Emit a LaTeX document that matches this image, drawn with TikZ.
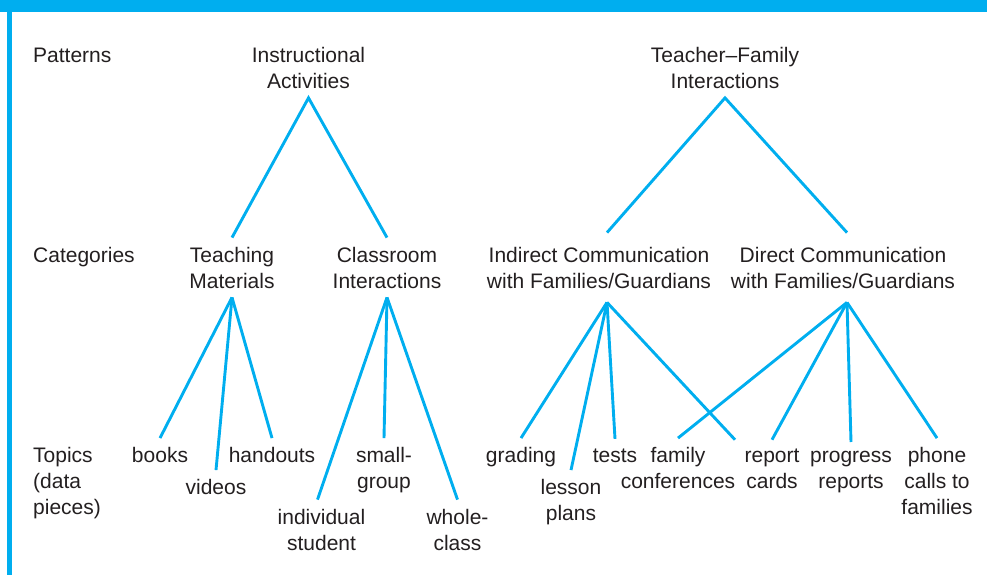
\documentclass[tikz,border=0pt]{standalone}
\usepackage{fontspec}
\setmainfont{Liberation Sans}
\usepackage{tikz}
\definecolor{bluebar}{HTML}{00AEEF}
\definecolor{ink}{HTML}{231F20}
\tikzstyle{lbl}=[text=ink, font=\fontsize{21}{26}\selectfont, align=center, anchor=base, execute at begin node={\vphantom{I}}, inner sep=9pt]
\tikzstyle{side}=[lbl, align=left, anchor=base west, inner sep=0pt]
\tikzstyle{far}=[lbl, inner ysep=14pt]
\tikzstyle{branch}=[draw=bluebar, line width=2.9pt]

\begin{document}
\begin{tikzpicture}[x=1pt,y=-1pt]
    \useasboundingbox (0,0) rectangle (987,575);

    %frame
    \fill [bluebar] (0,0) rectangle (987,12);
    \fill [bluebar] (7,12) rectangle (12,575);

    %level names (placed by last baseline)
    \node [side] (pat) at (33,62.5) {Patterns};
    \node [side] (cat) at (33,262.5) {Categories};
    \node [side] (top) at (33,514.5) {Topics\\(data\\pieces)};

    %patterns
    \node [lbl] (ia) at (308.5,88.5) {Instructional\\Activities};
    \node [lbl] (tf) at (725,88.5) {Teacher–Family\\Interactions};

    %categories
    \node [lbl] (tm) at (232,288) {Teaching\\Materials};
    \node [lbl] (ci) at (387,288) {Classroom\\Interactions};
    \node [far] (ind) at (599,288) {Indirect Communication\\with Families/Guardians};
    \node [far] (dir) at (843,288) {Direct Communication\\with Families/Guardians};

    %topics
    \node [lbl] (bk) at (160,462.5) {books};
    \node [lbl] (vd) at (216,494.5) {videos};
    \node [lbl] (ho) at (272,462.5) {handouts};
    \node [lbl] (is) at (321.5,550) {individual\\student};
    \node [lbl] (sg) at (384,488.5) {small-\\group};
    \node [lbl] (wc) at (457.5,550) {whole-\\class};
    \node [lbl] (gr) at (521,462.5) {grading};
    \node [lbl] (lp) at (571,520.5) {lesson\\plans};
    \node [lbl] (ts) at (615,462.5) {tests};
    \node [lbl] (fc) at (678,488.5) {family\\conferences};
    \node [lbl] (rc) at (772,488.5) {report\\cards};
    \node [lbl] (pr) at (851,488.5) {progress\\reports};
    \node [lbl] (pc) at (937,514.5) {phone\\calls to\\families};

    %branches
    \draw [branch] (tm.north) -- (ia.south) -- (ci.north);
    \draw [branch] ([xshift=8pt]ind.north) -- (tf.south) -- ([xshift=4pt]dir.north);
    \foreach \t in {bk,vd,ho}{\draw [branch] (tm.south) -- (\t.north);}
    \draw [branch] (ci.south) -- ([xshift=-4pt]is.north);
    \foreach \t in {sg,wc}{\draw [branch] (ci.south) -- (\t.north);}
    \foreach \t in {gr,lp,ts}{\draw [branch] ([xshift=8pt]ind.south) -- (\t.north);}
    \draw [branch] ([xshift=8pt]ind.south) -- ([xshift=-37pt]rc.north);
    \foreach \t in {fc,rc,pr,pc}{\draw [branch] ([xshift=4pt]dir.south) -- (\t.north);}

\end{tikzpicture}
\end{document}
